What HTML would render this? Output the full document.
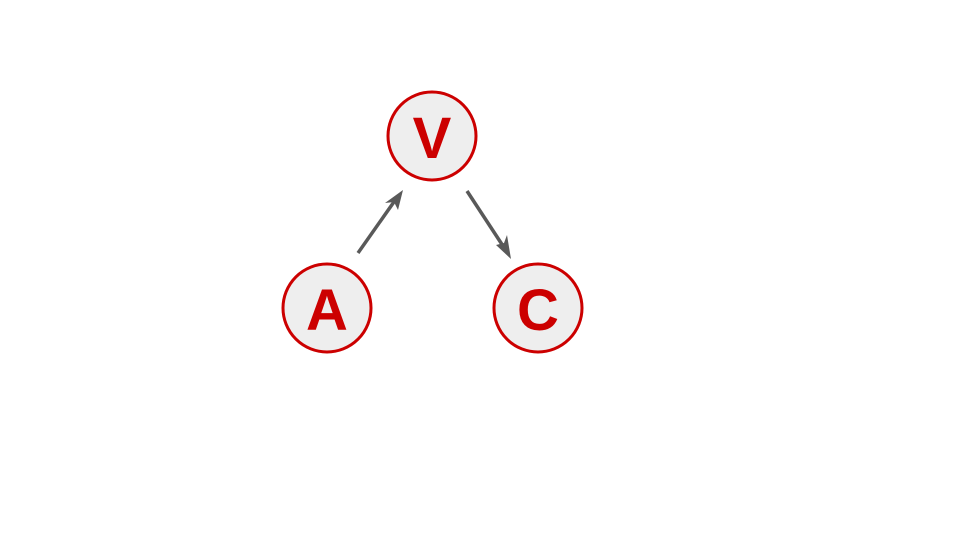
<!DOCTYPE html>
<html><head><meta charset="utf-8"><style>html,body{margin:0;padding:0;background:#fff;}</style></head>
<body>
<svg width="960" height="540" viewBox="0 0 960 540" xmlns="http://www.w3.org/2000/svg">
<g fill="#eeeeee" stroke="#cc0000" stroke-width="3">
<circle cx="432" cy="136" r="44"/>
<circle cx="327" cy="308" r="44"/>
<circle cx="538" cy="308" r="44"/>
</g>
<g stroke="#595959" stroke-width="3.5" fill="none">
<line x1="358" y1="253" x2="396" y2="199"/>
<line x1="467" y1="191" x2="505" y2="249"/>
</g>
<g fill="#595959">
<polygon points="403,190 398,210 394,202 385,203"/>
<polygon points="511,259 496,245 504,243 507,235"/>
</g>
<g font-family="Liberation Sans, sans-serif" font-weight="bold" font-size="58" fill="#cc0000" text-anchor="middle">
<text x="432" y="158">V</text>
<text x="327" y="330">A</text>
<text x="538" y="330">C</text>
</g>
</svg>
</body></html>
